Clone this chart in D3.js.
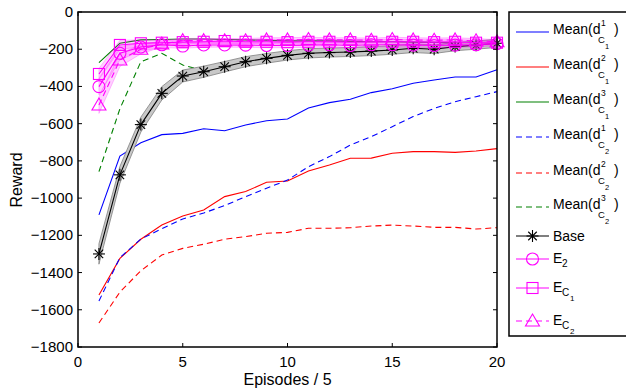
<html>
<style>
  body{ margin:0; background:#fff; }
  text{ font-family: "Liberation Sans", Arial, sans-serif; fill:#000; }
</style>
<script src="https://d3js.org/d3.v7.min.js"></script>
<body>
<svg id="chart" width="626" height="391"></svg>
<script>
// x = episodes / 5
let episodes = d3.range(1, 21);

// mean curves
let meanD1C1 = [-1090,-774,-703,-659,-652,-627,-638,-607,-584,-575,-516,-487,-469,-433,-412,-383,-365,-349,-349,-310];
let meanD2C1 = [-1521,-1324,-1221,-1145,-1096,-1064,-992,-965,-915,-908,-854,-822,-786,-785,-759,-750,-750,-754,-747,-734];
let meanD3C1 = [-272,-168,-150,-148,-145,-145,-148,-150,-152,-155,-155,-155,-158,-160,-160,-162,-163,-165,-165,-165];
let meanD1C2 = [-1553,-1320,-1220,-1165,-1112,-1080,-1040,-992,-947,-903,-831,-777,-715,-670,-616,-562,-518,-482,-455,-428];
let meanD2C2 = [-1671,-1505,-1390,-1306,-1270,-1248,-1221,-1207,-1189,-1184,-1162,-1162,-1159,-1150,-1145,-1150,-1157,-1157,-1166,-1159];
let meanD3C2 = [-858,-520,-267,-222,-285,-315,-290,-270,-252,-240,-230,-222,-212,-205,-198,-192,-190,-182,-178,-172];

// base with its spread
let base = [-1300,-875,-605,-437,-344,-321,-294,-267,-249,-233,-222,-218,-215,-210,-204,-195,-200,-186,-178,-168];
let baseSpread = [55,45,40,36,32,30,28,27,26,25,25,24,24,24,23,23,23,22,22,22];

// E series with their spread
let e2 = [-401,-222,-188,-176,-183,-177,-177,-178,-180,-180,-178,-176,-180,-176,-176,-178,-180,-178,-176,-170];
let eC1 = [-333,-177,-168,-165,-162,-160,-156,-160,-160,-162,-160,-160,-162,-160,-160,-160,-162,-160,-165,-165];
let eC2 = [-500,-258,-200,-172,-154,-154,-155,-155,-150,-150,-148,-150,-150,-152,-148,-150,-152,-150,-155,-160];
let e2Spread = [45,35,22,15,12,12,12,12,12,12,12,12,12,12,12,12,12,12,12,12];
let eC1Spread = [30,25,18,14,12,12,12,12,12,12,12,12,12,12,12,12,12,12,12,12];
let eC2Spread = [45,35,25,16,12,12,12,12,12,12,12,12,12,12,12,12,12,12,12,12];

let xTicks = [0,5,10,15,20];
let yTicks = [0,-200,-400,-600,-800,-1000,-1200,-1400,-1600,-1800];

let svg = d3.select("#chart");
let pLeft = 78, pRight = 497, pTop = 12, pBottom = 347;

let x = d3.scaleLinear().domain([0,20]).range([pLeft,pRight]);
let y = d3.scaleLinear().domain([-1800,0]).range([pBottom,pTop]);

function pts(vals){
  return vals.map(function(v,i){ return [episodes[i], v]; });
}
let line = d3.line().x(function(d){return x(d[0]);}).y(function(d){return y(d[1]);});
let area = d3.area()
  .x(function(d){return x(d.x);})
  .y0(function(d){return y(d.lo);})
  .y1(function(d){return y(d.hi);});
function band(vals, spread){
  return vals.map(function(v,i){ return {x:episodes[i], lo:v-spread[i], hi:v+spread[i]}; });
}

let plot = svg.append("g");

let means = [
  {v:meanD1C1, c:"#0000ff", dash:null},
  {v:meanD2C1, c:"#ff0000", dash:null},
  {v:meanD3C1, c:"#008000", dash:null},
  {v:meanD1C2, c:"#0000ff", dash:"6,4"},
  {v:meanD2C2, c:"#ff0000", dash:"6,4"},
  {v:meanD3C2, c:"#008000", dash:"6,4"}
];
means.forEach(function(m){
  plot.append("path").attr("d", line(pts(m.v)))
    .attr("fill","none").attr("stroke",m.c).attr("stroke-width",1.1)
    .attr("stroke-dasharray", m.dash);
});

// base band + line
plot.append("path").attr("d", area(band(base, baseSpread)))
  .attr("fill","#c8c8c8").attr("stroke","#808080").attr("stroke-width",0.8);
plot.append("path").attr("d", line(pts(base)))
  .attr("fill","none").attr("stroke","#000").attr("stroke-width",1.1);

function star(g, cx, cy, r){
  for(let k=0;k<4;k++){
    let a = k*Math.PI/4;
    g.append("line").attr("x1",cx-r*Math.cos(a)).attr("y1",cy-r*Math.sin(a))
      .attr("x2",cx+r*Math.cos(a)).attr("y2",cy+r*Math.sin(a))
      .attr("stroke","#000").attr("stroke-width",1.1);
  }
}
base.forEach(function(v,i){ star(plot, x(episodes[i]), y(v), 6); });

// E bands
[[e2,e2Spread],[eC1,eC1Spread],[eC2,eC2Spread]].forEach(function(s){
  plot.append("path").attr("d", area(band(s[0], s[1])))
    .attr("fill","#ff00ff").attr("fill-opacity",0.18)
    .attr("stroke","#ff00ff").attr("stroke-opacity",0.35).attr("stroke-width",0.7);
});

function marker(g, kind, cx, cy){
  if(kind=="circle"){
    g.append("circle").attr("cx",cx).attr("cy",cy).attr("r",6)
      .attr("fill","none").attr("stroke","#ff00ff").attr("stroke-width",1.1);
  } else if(kind=="square"){
    g.append("rect").attr("x",cx-5.5).attr("y",cy-5.5).attr("width",11).attr("height",11)
      .attr("fill","none").attr("stroke","#ff00ff").attr("stroke-width",1.1);
  } else {
    g.append("path").attr("d","M"+cx+","+(cy-7)+"L"+(cx+7)+","+(cy+5)+"L"+(cx-7)+","+(cy+5)+"Z")
      .attr("fill","none").attr("stroke","#ff00ff").attr("stroke-width",1.1);
  }
}

let eSeries = [
  {v:e2, kind:"circle", dash:null},
  {v:eC1, kind:"square", dash:null},
  {v:eC2, kind:"triangle", dash:"6,4"}
];
eSeries.forEach(function(s){
  plot.append("path").attr("d", line(pts(s.v)))
    .attr("fill","none").attr("stroke","#ff00ff").attr("stroke-width",1.1)
    .attr("stroke-dasharray", s.dash);
  s.v.forEach(function(v,i){ marker(plot, s.kind, x(episodes[i]), y(v)); });
});

// axes box
let ax = svg.append("g");
ax.append("rect").attr("x",pLeft).attr("y",pTop).attr("width",pRight-pLeft).attr("height",pBottom-pTop)
  .attr("fill","none").attr("stroke","#000").attr("stroke-width",1.5);

xTicks.forEach(function(t){
  ax.append("line").attr("x1",x(t)).attr("x2",x(t)).attr("y1",pBottom).attr("y2",pBottom-4).attr("stroke","#000");
  ax.append("line").attr("x1",x(t)).attr("x2",x(t)).attr("y1",pTop).attr("y2",pTop+4).attr("stroke","#000");
  ax.append("text").attr("x",x(t)).attr("y",pBottom+20).attr("text-anchor","middle")
    .style("font-size","15px").text(t);
});
yTicks.forEach(function(t){
  ax.append("line").attr("x1",pLeft).attr("x2",pLeft+4).attr("y1",y(t)).attr("y2",y(t)).attr("stroke","#000");
  ax.append("line").attr("x1",pRight).attr("x2",pRight-4).attr("y1",y(t)).attr("y2",y(t)).attr("stroke","#000");
  ax.append("text").attr("x",pLeft-5).attr("y",y(t)+5).attr("text-anchor","end")
    .style("font-size","15px").text(t<0 ? "\u2212"+(-t) : t);
});

ax.append("text").attr("x",(pLeft+pRight)/2).attr("y",385).attr("text-anchor","middle")
  .style("font-size","16px").text("Episodes / 5");
ax.append("text").attr("transform","translate(22,180) rotate(-90)").attr("text-anchor","middle")
  .style("font-size","16px").text("Reward");

// legend
let lg = svg.append("g");
lg.append("rect").attr("x",509).attr("y",12).attr("width",130).attr("height",324)
  .attr("fill","#fff").attr("stroke","#000").attr("stroke-width",1.5);

let legendRows = [
  {y:32, c:"#0000ff", dash:null, sup:"1", sub:"1"},
  {y:67, c:"#ff0000", dash:null, sup:"2", sub:"1"},
  {y:102, c:"#008000", dash:null, sup:"3", sub:"1"},
  {y:137, c:"#0000ff", dash:"6,4", sup:"1", sub:"2"},
  {y:173, c:"#ff0000", dash:"6,4", sup:"2", sub:"2"},
  {y:207, c:"#008000", dash:"6,4", sup:"3", sub:"2"}
];
legendRows.forEach(function(r){
  lg.append("line").attr("x1",516).attr("x2",549).attr("y1",r.y).attr("y2",r.y)
    .attr("stroke",r.c).attr("stroke-width",1.1).attr("stroke-dasharray",r.dash);
  lg.append("text").attr("x",553).attr("y",r.y+1.5).style("font-size","14px").text("Mean(d");
  lg.append("text").attr("x",601).attr("y",r.y-6).style("font-size","8.5px").text(r.sup);
  lg.append("text").attr("x",598).attr("y",r.y+11).style("font-size","9.5px").text("C");
  lg.append("text").attr("x",605).attr("y",r.y+16.5).style("font-size","7.5px").text(r.sub);
  lg.append("text").attr("x",614).attr("y",r.y+1.5).style("font-size","14px").text(")");
});

// base legend
lg.append("line").attr("x1",516).attr("x2",549).attr("y1",236).attr("y2",236).attr("stroke","#000").attr("stroke-width",1.1);
star(lg, 532.5, 236, 6);
lg.append("text").attr("x",553).attr("y",241).style("font-size","14px").text("Base");

let eLegend = [
  {y:259, kind:"circle", dash:null, c:null, sub:"2"},
  {y:288, kind:"square", dash:null, c:"C", sub:"1"},
  {y:321, kind:"triangle", dash:"6,4", c:"C", sub:"2"}
];
eLegend.forEach(function(r){
  lg.append("line").attr("x1",516).attr("x2",549).attr("y1",r.y).attr("y2",r.y)
    .attr("stroke","#ff00ff").attr("stroke-width",1.1).attr("stroke-dasharray",r.dash);
  marker(lg, r.kind, 532.5, r.y);
  lg.append("text").attr("x",553).attr("y",r.y+4).style("font-size","14px").text("E");
  if(r.c){
    lg.append("text").attr("x",562).attr("y",r.y+8).style("font-size","10px").text("C");
    lg.append("text").attr("x",570).attr("y",r.y+13).style("font-size","8px").text(r.sub);
  } else {
    lg.append("text").attr("x",562).attr("y",r.y+8).style("font-size","10px").text(r.sub);
  }
});
</script>
</body>
</html>
